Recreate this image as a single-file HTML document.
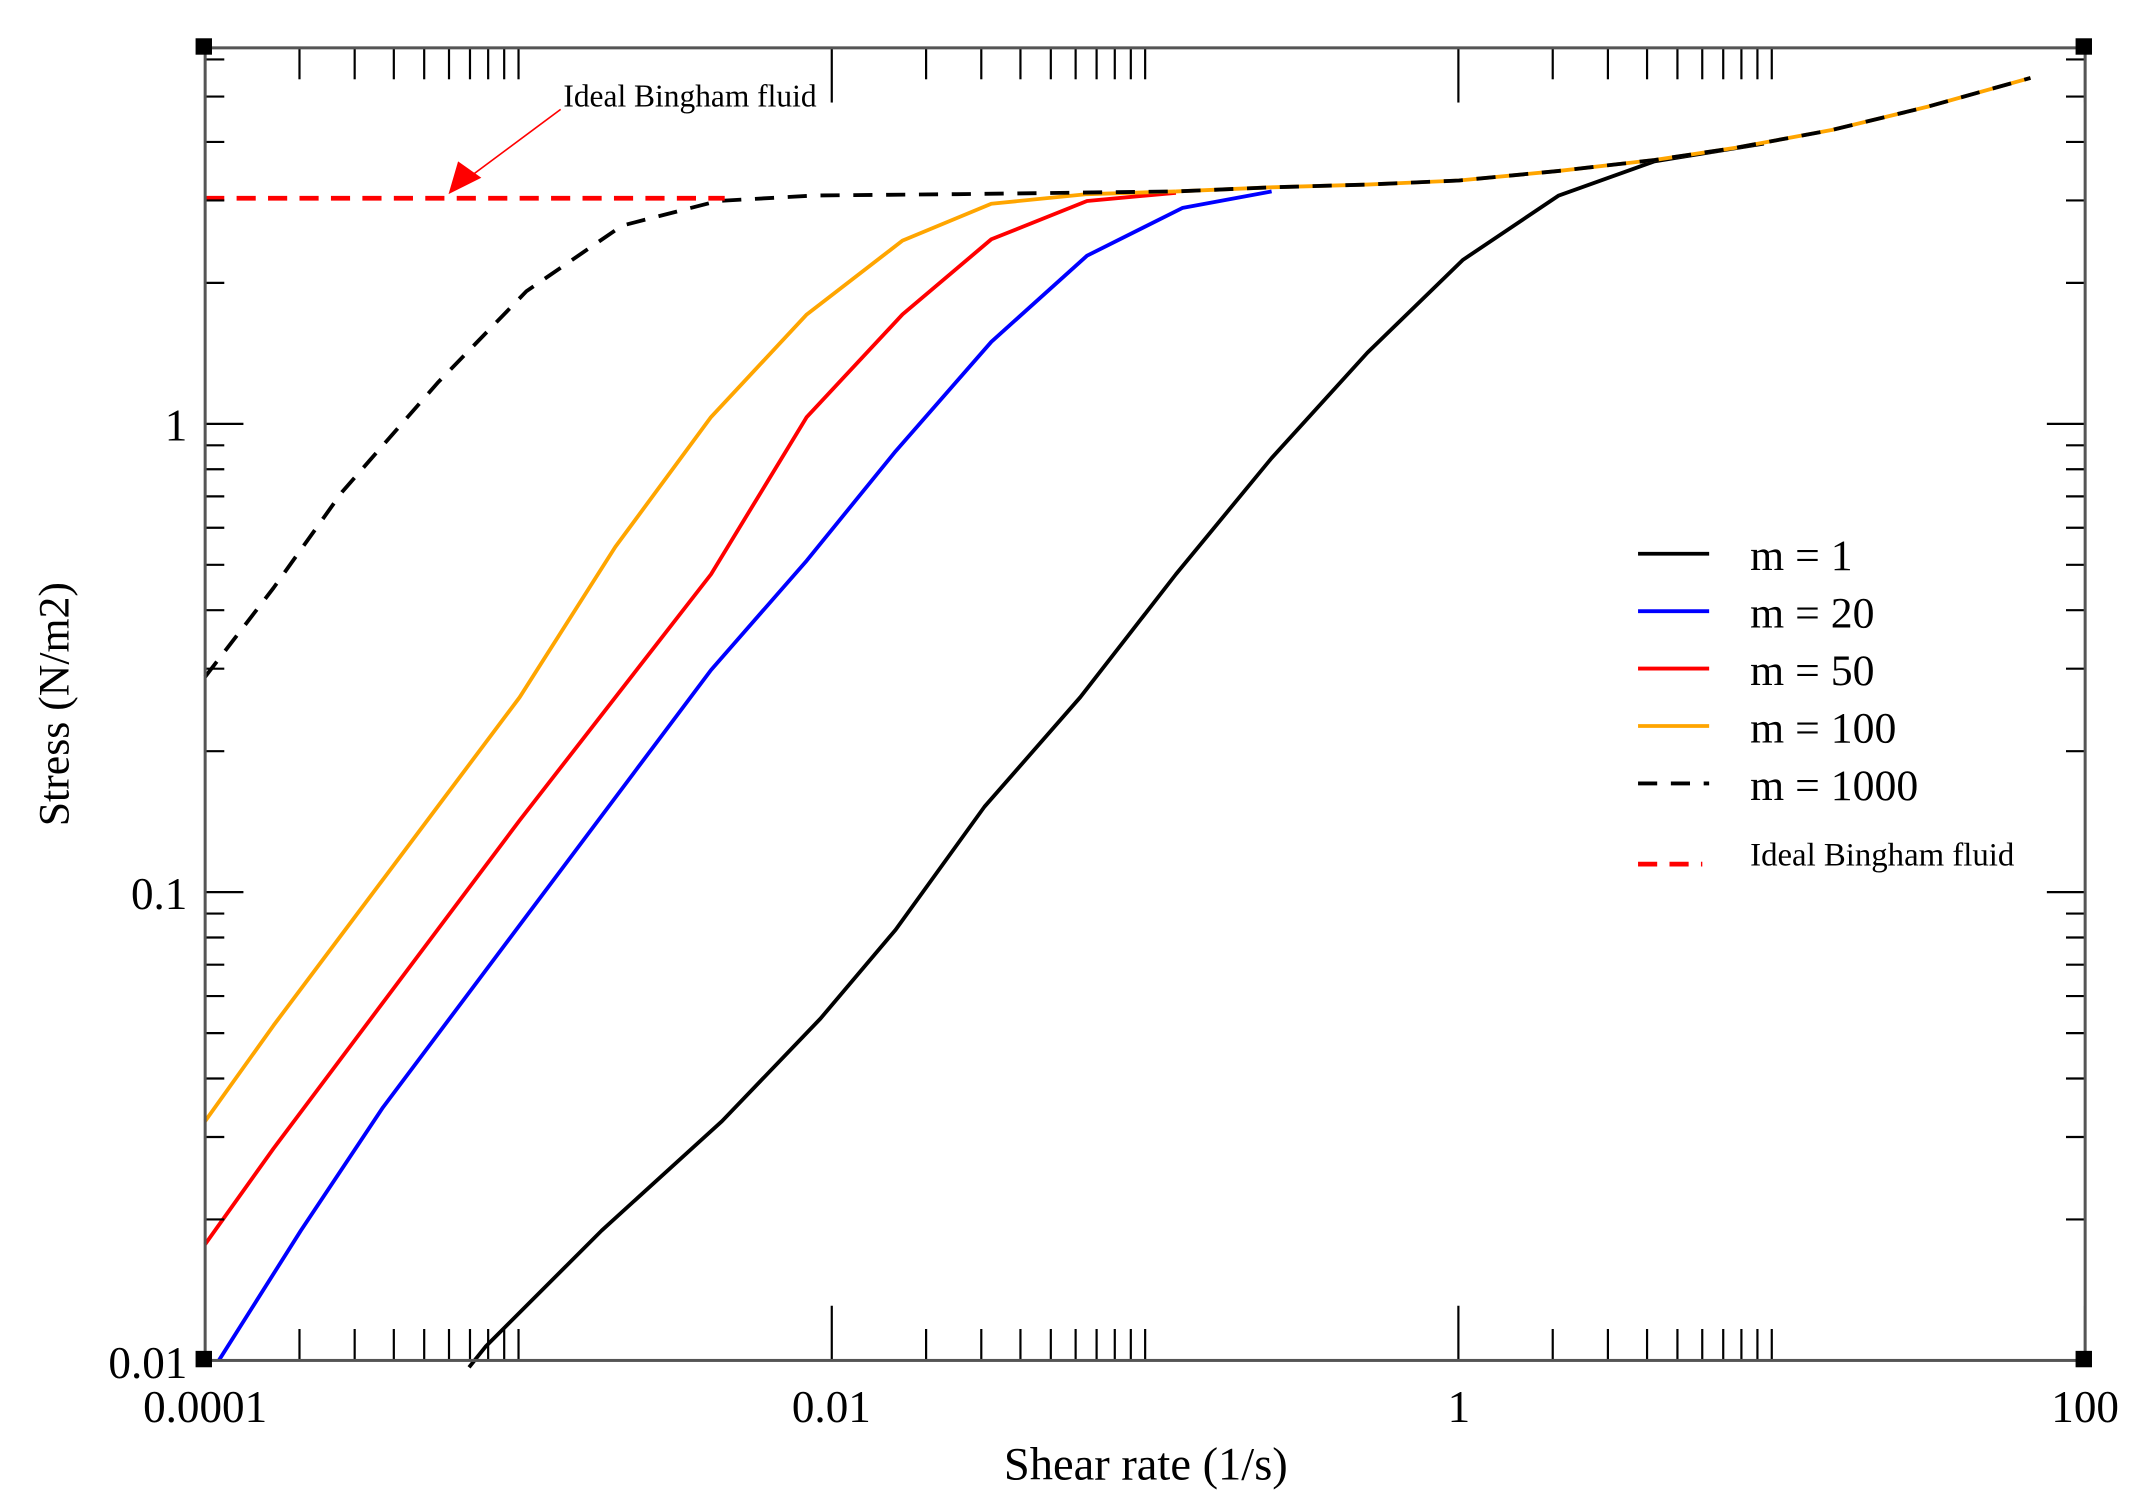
<!DOCTYPE html>
<html><head><meta charset="utf-8"><style>html,body{margin:0;padding:0;background:#fff}svg{display:block}</style></head>
<body>
<svg id="s" width="2144" height="1504" viewBox="0 0 1568 1100" xmlns="http://www.w3.org/2000/svg" font-family="Liberation Serif, serif">
<rect x="0" y="0" width="1568" height="1100" fill="#fff"/>
<g fill="none" stroke-width="2.8" stroke-linejoin="round">
<polyline stroke="#000" points="343,1000 355,985 440,900 528,820 600,745 655,680 720,590 790,510 860,420 930,335 1000,258 1070,190 1140,143 1210,118 1290,105"/>
<polyline stroke="#0000ff" points="160,995 220,900 280,810 340,730 400,650 460,570 520,490 590,410 655,330 725,250 795,187 865,152 930,140"/>
<polyline stroke="#ff0000" points="150,910 200,840 260,760 320,680 380,600 450,510 520,420 590,305 660,230 725,175 795,147 860,141"/>
<polyline stroke="#ffa500" points="150,820 200,750 260,670 320,590 380,510 450,400 520,305 590,230 660,176 725,149 795,142 860,140"/>
<polyline stroke="#ffa500" points="860,140 930,137 1000,135 1067,132 1140,125 1210,117 1270,108 1340,95 1410,78 1485,57"/>
<polyline stroke="#000" stroke-dasharray="14,10" points="150,495 200,430 250,360 320,280 385,213 455,165 525,147 595,143 700,142 860,140 930,137 1000,135 1067,132 1140,125 1210,117 1270,108 1340,95 1410,78 1485,57"/>
<line x1="150" y1="145" x2="530" y2="145" stroke="#ff0000" stroke-width="3.5" stroke-dasharray="14,9"/>
<line x1="410" y1="80" x2="340" y2="132" stroke="#ff0000" stroke-width="1.2"/>
</g>
<polygon points="328,142 335,118 352,130" fill="#ff0000"/>
<text x="412" y="78" font-size="23">Ideal Bingham fluid</text>
<g id="ax" stroke="#000" stroke-width="1.6"></g>
<rect x="150" y="35" width="1375" height="960" fill="none" stroke="#555" stroke-width="2.2"/>
<g fill="#000"><rect x="143" y="28" width="12" height="12"/><rect x="1518" y="28" width="12" height="12"/><rect x="143" y="988" width="12" height="12"/><rect x="1518" y="988" width="12" height="12"/></g>
<g font-size="33" text-anchor="end">
<text x="137" y="1008">0.01</text><text x="137" y="665">0.1</text><text x="137" y="322">1</text>
</g>
<g font-size="33" text-anchor="middle">
<text x="150" y="1040">0.0001</text><text x="608" y="1040">0.01</text><text x="1067" y="1040">1</text><text x="1525" y="1040">100</text>
<text x="838" y="1082" font-size="34">Shear rate (1/s)</text>
<text transform="translate(50,515) rotate(-90)" font-size="32">Stress (N/m2)</text>
</g>
<g stroke-width="2.8" fill="none">
<line x1="1198" y1="405" x2="1250" y2="405" stroke="#000"/>
<line x1="1198" y1="447" x2="1250" y2="447" stroke="#0000ff"/>
<line x1="1198" y1="489" x2="1250" y2="489" stroke="#ff0000"/>
<line x1="1198" y1="531" x2="1250" y2="531" stroke="#ffa500"/>
<line x1="1198" y1="573" x2="1250" y2="573" stroke="#000" stroke-dasharray="14,10"/>
<line x1="1198" y1="632" x2="1245" y2="632" stroke="#ff0000" stroke-width="3.5" stroke-dasharray="14,9"/>
</g>
<g font-size="32">
<text x="1280" y="417">m = 1</text><text x="1280" y="459">m = 20</text><text x="1280" y="501">m = 50</text><text x="1280" y="543">m = 100</text><text x="1280" y="585">m = 1000</text>
<text x="1280" y="633" font-size="24">Ideal Bingham fluid</text>
</g>
</svg>
<script>
var g=document.getElementById('ax'),h='';
function L(a,b,c,d){h+='<line x1="'+a+'" y1="'+b+'" x2="'+c+'" y2="'+d+'"/>';}
for(var d=0;d<4;d++){var x0=150+d*458.3;L(x0,995,x0,955);L(x0,35,x0,75);if(d==3)break;for(var k=2;k<=10;k++){var x=x0+Math.log10(k)*229.2;L(x,995,x,972);L(x,35,x,58);}}
for(var d=0;d<3;d++){for(var k=1;k<10;k++){var y=995-(d+Math.log10(k))*342.5;if(y<35)break;var len=k==1?28:14;L(150,y,150+len,y);L(1525,y,1525-len,y);}}
g.innerHTML=h;
</script>
</body></html>
